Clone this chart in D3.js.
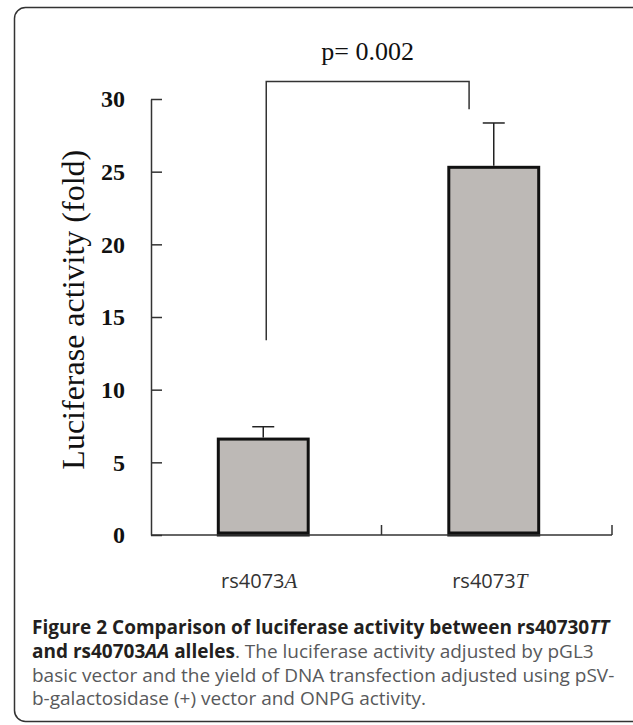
<!DOCTYPE html>
<html>
<head>
<meta charset="utf-8">
<script src="https://cdn.jsdelivr.net/npm/d3@7"></script>
<style>
  html, body { margin: 0; padding: 0; background: #fff; }
  svg { display: block; }
</style>
</head>
<body>
<div id="chart"></div>
<script>
(function drawChart() {
  const WIDTH = 633
  const HEIGHT = 725

  // data
  const categories = ['A', 'T']
  const labelPrefix = 'rs4073'
  const means = [6.6, 25.3]
  const errors = [0.85, 3.05]
  const yTicks = [0, 5, 10, 15, 20, 25, 30]
  const bracketEnds = [13.4, 29.3]
  const bracketTop = 31.2
  const pLabel = 'p= 0.002'
  const yLabel = 'Luciferase activity (fold)'

  const svg = d3.select('#chart')
    .append('svg')
    .attr('width', WIDTH)
    .attr('height', HEIGHT)

  // figure frame
  svg.append('rect')
    .attr('x', 14.5)
    .attr('y', 7.5)
    .attr('width', 640)
    .attr('height', 714)
    .attr('rx', 11)
    .attr('fill', 'none')
    .attr('stroke', '#333')
    .attr('stroke-width', 1.5)

  const x = d3.scaleBand()
    .domain(categories)
    .range([151, 612])
    .padding(0)

  const y = d3.scaleLinear()
    .domain([0, 30])
    .range([535, 99])

  const bw = x.bandwidth()
  const barW = bw * 0.39
  const barCenter = (c) => x(c) + bw * 0.487

  const data = categories.map((c, i) => ({cat: c, mean: means[i], err: errors[i]}))

  // bars
  svg.append('g')
    .selectAll('rect')
    .data(data)
    .enter()
    .append('rect')
    .attr('x', (d) => barCenter(d.cat) - barW / 2)
    .attr('y', (d) => y(d.mean))
    .attr('width', barW)
    .attr('height', (d) => y(0) - y(d.mean))
    .attr('fill', '#bdb9b6')
    .attr('stroke', '#111')
    .attr('stroke-width', 3)

  // thicker base edge of the bars
  svg.append('g')
    .selectAll('line')
    .data(data)
    .enter()
    .append('line')
    .attr('x1', (d) => barCenter(d.cat) - barW / 2)
    .attr('x2', (d) => barCenter(d.cat) + barW / 2)
    .attr('y1', y(0) - 2)
    .attr('y2', y(0) - 2)
    .attr('stroke', '#111')
    .attr('stroke-width', 3)

  // error bars (upper only)
  const errG = svg.append('g')
    .attr('stroke', '#222')
    .attr('stroke-width', 1.5)
  errG.selectAll('line.v')
    .data(data)
    .enter()
    .append('line')
    .attr('class', 'v')
    .attr('x1', (d) => barCenter(d.cat))
    .attr('x2', (d) => barCenter(d.cat))
    .attr('y1', (d) => y(d.mean) - 1.5)
    .attr('y2', (d) => y(d.mean + d.err))
  errG.selectAll('line.cap')
    .data(data)
    .enter()
    .append('line')
    .attr('class', 'cap')
    .attr('x1', (d) => barCenter(d.cat) - 11)
    .attr('x2', (d) => barCenter(d.cat) + 11)
    .attr('y1', (d) => y(d.mean + d.err))
    .attr('y2', (d) => y(d.mean + d.err))

  // y axis, ticks pointing inward
  const yAxis = svg.append('g')
    .attr('transform', 'translate(' + x.range()[0] + ',0)')
    .call(d3.axisLeft(y)
      .tickValues(yTicks)
      .tickSizeInner(-11)
      .tickSizeOuter(0)
      .tickPadding(26))
  yAxis.select('.domain').attr('stroke', '#333').attr('stroke-width', 1.5)
  yAxis.selectAll('.tick line').attr('stroke', '#333').attr('stroke-width', 1.5)
  yAxis.selectAll('.tick text')
    .attr('fill', '#111')
    .attr('font-family', '"Liberation Serif", "DejaVu Serif", serif')
    .attr('font-weight', 'bold')
    .attr('font-size', 24)

  // x axis with ticks at band edges, pointing up
  const xAxis = svg.append('g')
  xAxis.append('line')
    .attr('x1', x.range()[0])
    .attr('x2', x.range()[1])
    .attr('y1', y(0))
    .attr('y2', y(0))
    .attr('stroke', '#333')
    .attr('stroke-width', 1.5)
  xAxis.selectAll('line.tick')
    .data(categories)
    .enter()
    .append('line')
    .attr('class', 'tick')
    .attr('x1', (c) => x(c) + bw)
    .attr('x2', (c) => x(c) + bw)
    .attr('y1', y(0))
    .attr('y2', y(0) - 10)
    .attr('stroke', '#333')
    .attr('stroke-width', 1.5)

  // category labels: sans prefix + italic serif allele letter
  const catText = xAxis.selectAll('text')
    .data(categories)
    .enter()
    .append('text')
    .attr('x', (c) => barCenter(c) - 4)
    .attr('y', y(0) + 53)
    .attr('text-anchor', 'middle')
    .attr('fill', '#333')
    .attr('font-family', '"Open Sans", sans-serif')
    .attr('font-size', 20)
  catText.append('tspan').text(labelPrefix)
  catText.append('tspan')
    .attr('font-family', '"Liberation Serif", serif')
    .attr('font-style', 'italic')
    .attr('font-size', 21)
    .text((c) => c)

  // y axis title
  svg.append('text')
    .attr('transform', 'translate(84,' + y(15.5) + ') rotate(-90)')
    .attr('text-anchor', 'middle')
    .attr('fill', '#111')
    .attr('font-family', '"Liberation Serif", "DejaVu Serif", serif')
    .attr('font-size', 32)
    .text(yLabel)

  // significance bracket
  const bx1 = x('A') + bw * 0.5
  const bx2 = x('T') + bw * 0.38
  svg.append('path')
    .attr('d', d3.line()([
      [bx1, y(bracketEnds[0])],
      [bx1, y(bracketTop)],
      [bx2, y(bracketTop)],
      [bx2, y(bracketEnds[1])]
    ]))
    .attr('fill', 'none')
    .attr('stroke', '#333')
    .attr('stroke-width', 1.5)

  svg.append('text')
    .attr('x', (bx1 + bx2) / 2)
    .attr('y', y(bracketTop) - 22)
    .attr('text-anchor', 'middle')
    .attr('fill', '#111')
    .attr('font-family', '"Liberation Serif", "DejaVu Serif", serif')
    .attr('font-size', 26)
    .text(pLabel)

  // caption
  const caption = svg.append('text')
    .attr('font-family', '"Open Sans", sans-serif')
    .attr('font-size', 19)
  const capX = 32
  const l1 = caption.append('tspan').attr('x', capX).attr('y', 634)
    .attr('font-weight', 'bold').attr('fill', '#231f20')
  l1.append('tspan').text('Figure 2 Comparison of luciferase activity between rs40730')
  l1.append('tspan').attr('font-style', 'italic').text('TT')

  const l2 = caption.append('tspan').attr('x', capX).attr('y', 658)
  l2.append('tspan').attr('font-weight', 'bold').attr('fill', '#231f20').text('and rs40703')
  l2.append('tspan').attr('font-weight', 'bold').attr('font-style', 'italic').attr('fill', '#231f20').text('AA')
  l2.append('tspan').attr('font-weight', 'bold').attr('fill', '#231f20').text(' alleles')
  l2.append('tspan').attr('fill', '#58595b').text('. The luciferase activity adjusted by pGL3')

  caption.append('tspan').attr('x', capX).attr('y', 682).attr('fill', '#58595b')
    .text('basic vector and the yield of DNA transfection adjusted using pSV-')
  caption.append('tspan').attr('x', capX).attr('y', 705).attr('fill', '#58595b')
    .text('b-galactosidase (+) vector and ONPG activity.')
})()
</script>
</body>
</html>
